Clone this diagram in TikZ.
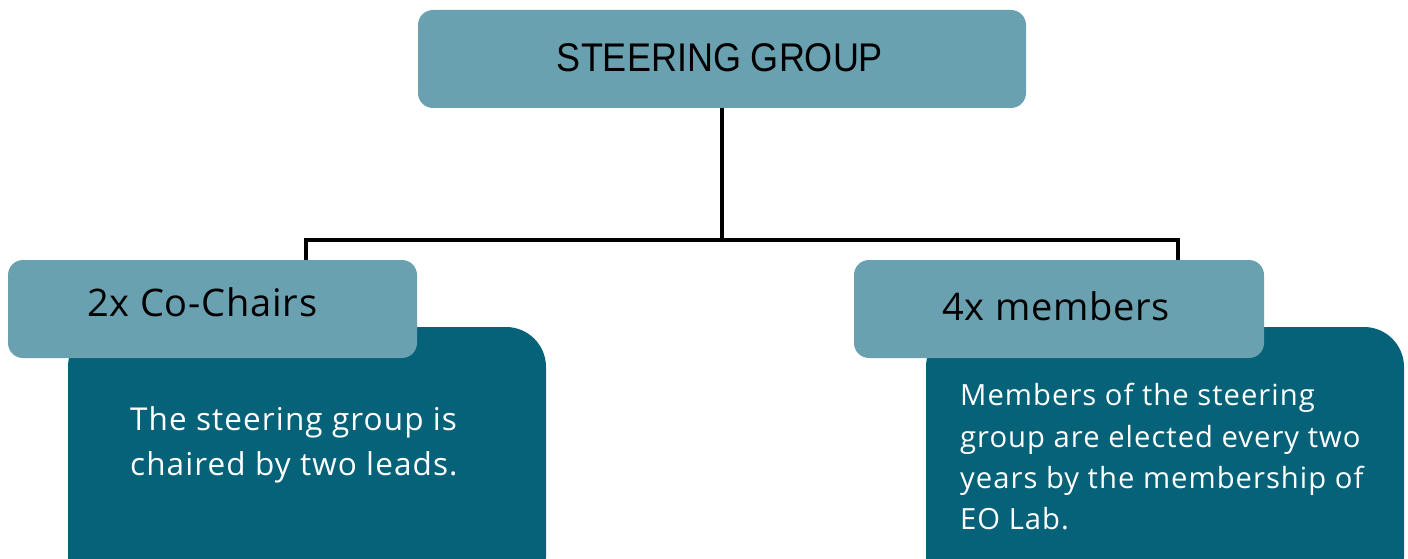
\documentclass[tikz,border=0pt]{standalone}
\usepackage{fontspec}
\setmainfont{Open Sans}
\newfontfamily\headfont{Liberation Sans}
\newfontfamily\bodyfont[LetterSpace=3.5]{Open Sans}
\newfontfamily\labfont[LetterSpace=2]{Open Sans}
\definecolor{lightteal}{HTML}{69A1B1}
\definecolor{darkteal}{HTML}{056279}
\tikzset{
  labelbox/.style={fill=lightteal, rounded corners=15pt, minimum width=409pt, minimum height=98pt, inner sep=0pt},
  darkbox/.style={fill=darkteal, rounded corners=40pt, minimum width=478pt, minimum height=270pt, inner sep=0pt},
  conn/.style={line width=4.5pt, draw=black},
  bodytext/.style={text=white, anchor=base west, inner sep=0pt},
  labeltext/.style={text=black, font=\labfont\fontsize{38}{44}\selectfont, anchor=base west, inner sep=0pt}
}
\begin{document}
\begin{tikzpicture}[x=1pt,y=1pt]
\useasboundingbox (0,0) rectangle (1408,558);
\clip (0,0) rectangle (1408,558);
% dark boxes
\node[darkbox] (d1) at (307,96) {};
\node[darkbox] (d2) at (1165,96) {};
% label boxes
\node[labelbox] (lab1) at (212.5,249) {};
\node[labelbox, minimum width=410pt] (lab2) at (1059,249) {};
% top box
\node[labelbox, minimum width=608pt] (top) at (722,499) {};
\node[anchor=base, inner sep=0pt, font=\headfont\fontsize{40}{46}\selectfont, xscale=0.9] (toptext) at (720,486) {STEERING GROUP};
% connectors
\coordinate (j) at (722,318);
\coordinate (jl) at (306,298);
\coordinate (jr) at (1178,298);
\draw[conn] (top.south) -- (j);
\draw[conn] (j) -| (jl);
\draw[conn] (j) -| (jr);
% labels
\node[labeltext] (l1) at (87,242) {2x Co-Chairs};
\node[labeltext] (l2) at (942,238) {4x members};
% body texts
\begin{scope}[every node/.append style={font=\bodyfont\fontsize{31.5}{36}\selectfont}]
\node[bodytext] (b1a) at (130,128) {The steering group is};
\node[bodytext] (b1b) at (130,83) {chaired by two leads.};
\end{scope}
\begin{scope}[every node/.append style={font=\bodyfont\fontsize{29.2}{36}\selectfont}]
\node[bodytext] (b2a) at (960,153) {Members of the steering};
\node[bodytext] (b2b) at (960,111) {group are elected every two};
\node[bodytext] (b2c) at (960,70) {years by the membership of};
\node[bodytext] (b2d) at (960,29) {EO Lab.};
\end{scope}
\end{tikzpicture}
\end{document}
